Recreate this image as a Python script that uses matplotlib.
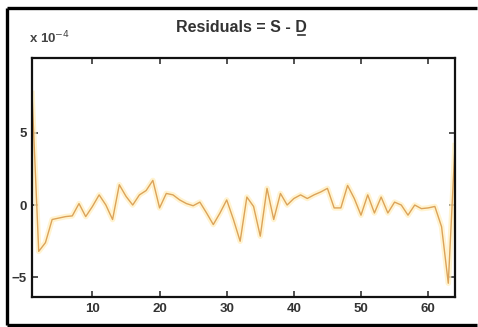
import matplotlib
matplotlib.use("Agg")
import matplotlib.pyplot as plt
from matplotlib.lines import Line2D

plt.rcParams.update({
    "font.family": ["Liberation Sans", "DejaVu Sans"],
    "font.size": 8,
    "xtick.direction": "in",
    "ytick.direction": "in",
})

# residuals (x 1e-4), sample index 1..64
idx = list(range(1, 65))
resid = [7.7, -3.2, -2.6, -1.0, -0.9, -0.8, -0.75, 0.1, -0.8, -0.1,
         0.7, 0.0, -1.0, 1.4, 0.6, 0.0, 0.7, 1.0, 1.7, -0.2,
         0.8, 0.7, 0.35, 0.1, -0.05, 0.2, -0.55, -1.35, -0.55, 0.35,
         -1.0, -2.5, 0.55, -0.1, -2.15, 1.15, -1.0, 0.8, 0.0, 0.45,
         0.7, 0.45, 0.7, 0.9, 1.15, -0.2, -0.2, 1.35, 0.45, -0.7,
         0.7, -0.55, 0.55, -0.55, 0.2, 0.0, -0.7, 0.0, -0.25, -0.2,
         -0.1, -1.5, -5.4, 4.1]
xticks = [10, 20, 30, 40, 50, 60]
yticks = [-5, 0, 5]

W, H = 478, 327
fig = plt.figure(figsize=(W / 100, H / 100), dpi=100)
ax = fig.add_axes([32 / W, 30 / H, 423 / W, 239 / H])

# soft glow under the line, like the blurred original
ax.plot(idx, resid, color="#fff0c4", linewidth=4, alpha=0.8, solid_joinstyle="round")
ax.plot(idx, resid, color="#dca35a", linewidth=1.0)

ax.set_xlim(1, 64)
ax.set_ylim(-6.35, 10.15)
ax.set_xticks(xticks)
ax.set_yticks(yticks)
ax.tick_params(top=True, right=True, length=4, width=1.2, labelsize=9.5,
               colors="#333", pad=4)
for lab in ax.get_xticklabels() + ax.get_yticklabels():
    lab.set_fontweight("bold")
for s in ax.spines.values():
    s.set_linewidth(1.6)
    s.set_color("#111")

fig.text(29 / W, 1 - 38 / H, r"x 10$^{-4}$", fontsize=9.5, color="#444",
         ha="left", va="center", fontweight="bold")
title = fig.text(241 / W, 1 - 28 / H, "Residuals = S - D", fontsize=11.5,
                 fontweight="bold", color="#333", ha="center", va="center")

# small underline beneath the trailing D
fig.canvas.draw()
bb = title.get_window_extent(fig.canvas.get_renderer())
fig.add_artist(Line2D([(bb.x1 - 8) / W, (bb.x1 - 1) / W], [(bb.y0 + 0.5) / H] * 2,
                      transform=fig.transFigure, color="#333", linewidth=1.2))

# black frame around the figure (open on the right, as in the original)
fr = dict(transform=fig.transFigure, color="black", linewidth=2.4,
          solid_capstyle="butt")
fig.add_artist(Line2D([7 / W, 1 - 1 / W], [1 - 8 / H] * 2, **fr))
fig.add_artist(Line2D([7 / W, 7 / W], [2 / H, 1 - 8 / H], **fr))
fig.add_artist(Line2D([7 / W, 1 - 1 / W], [2 / H] * 2, **fr))

fig.savefig("out.png", dpi=100, facecolor="white")
